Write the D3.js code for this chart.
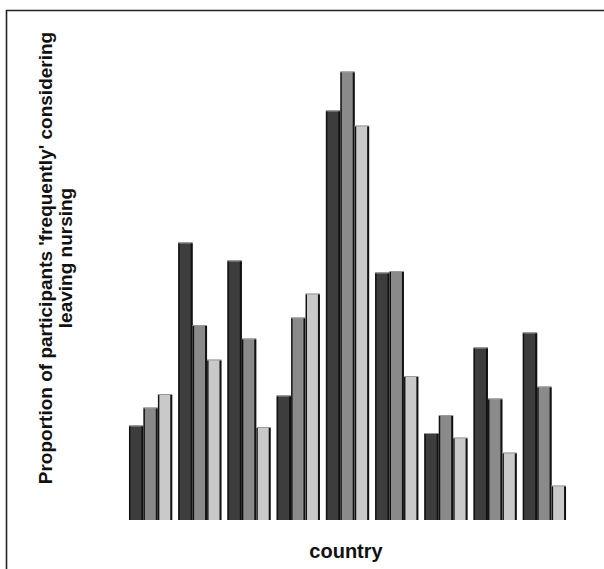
<!DOCTYPE html>
<html>
<head>
<meta charset="utf-8">
<script src="https://cdn.jsdelivr.net/npm/d3@7"></script>
<style>
  html, body { margin: 0; padding: 0; background: #fff; }
  svg { display: block; }
  text { font-family: "Liberation Sans", Arial, sans-serif; font-weight: bold; fill: #111; }
</style>
</head>
<body>
<svg id="chart" width="604" height="569"></svg>
<script>
// Countries (groups along the x axis)
const countries = ["C1", "C2", "C3", "C4", "C5", "C6", "C7", "C8", "C9"];
// Three series per country, percent of participants
const seriesNames = ["s1", "s2", "s3"];
const series1 = [6.3, 18.5, 17.3, 8.3, 27.3, 16.5, 5.8, 11.5, 12.5];
const series2 = [7.5, 13.0, 12.1, 13.5, 29.9, 16.6, 7.0, 8.1, 8.9];
const series3 = [8.4, 10.7, 6.2, 15.1, 26.3, 9.6, 5.5, 4.5, 2.3];
const seriesColors = ["#3d3d3d", "#8a8a8a", "#c9c9c9"];

const yTitle = ["Proportion of participants 'frequently' considering", "leaving nursing"];
const xTitle = "country";

const svg = d3.select("#chart");

// frame line (top and left edges)
svg.append("path")
  .attr("d", "M6.5,569 V10.5 H604")
  .attr("fill", "none")
  .attr("stroke", "#222")
  .attr("stroke-width", 1.6);

const x0 = d3.scaleBand().domain(countries).range([126, 569])
  .paddingInner(0.12).paddingOuter(0.06);
const x1 = d3.scaleBand().domain(seriesNames).range([0, x0.bandwidth()]).padding(0);
const y = d3.scaleLinear().domain([0, 30]).range([520, 70]);

const allSeries = [series1, series2, series3];
const rows = countries.map((c, i) => ({
  country: c,
  values: seriesNames.map((s, j) => ({ key: s, idx: j, value: allSeries[j][i] }))
}));

const groups = svg.append("g").selectAll("g")
  .data(rows).join("g")
  .attr("transform", d => `translate(${x0(d.country)},0)`);

const bars = groups.selectAll("g.bar")
  .data(d => d.values).join("g").attr("class", "bar");

bars.append("rect")
  .attr("x", d => x1(d.key))
  .attr("y", d => y(d.value))
  .attr("width", x1.bandwidth())
  .attr("height", d => y(0) - y(d.value))
  .attr("fill", d => seriesColors[d.idx]);

// light top edge of each bar
bars.append("line")
  .attr("x1", d => x1(d.key))
  .attr("x2", d => x1(d.key) + x1.bandwidth())
  .attr("y1", d => y(d.value) + 0.5)
  .attr("y2", d => y(d.value) + 0.5)
  .attr("stroke", "#999")
  .attr("stroke-width", 1);

// dark side edges of each bar
bars.append("line")
  .attr("x1", d => x1(d.key) + 0.8)
  .attr("x2", d => x1(d.key) + 0.8)
  .attr("y1", d => y(d.value) + 1)
  .attr("y2", y(0))
  .attr("stroke", "#111")
  .attr("stroke-width", 1.4);
bars.append("line")
  .attr("x1", d => x1(d.key) + x1.bandwidth() - 1)
  .attr("x2", d => x1(d.key) + x1.bandwidth() - 1)
  .attr("y1", d => y(d.value) + 1)
  .attr("y2", y(0))
  .attr("stroke", "#111")
  .attr("stroke-width", 2);

// axis titles
const yt = svg.append("text")
  .attr("transform", "translate(0,258) rotate(-90)")
  .attr("text-anchor", "middle")
  .style("font-size", "19px");
yt.selectAll("tspan").data(yTitle).join("tspan")
  .attr("x", 0)
  .attr("y", (d, i) => 52 + i * 19.5)
  .text(d => d);

svg.append("text")
  .attr("x", 346)
  .attr("y", 558)
  .attr("text-anchor", "middle")
  .style("font-size", "20px")
  .text(xTitle);
</script>
</body>
</html>
